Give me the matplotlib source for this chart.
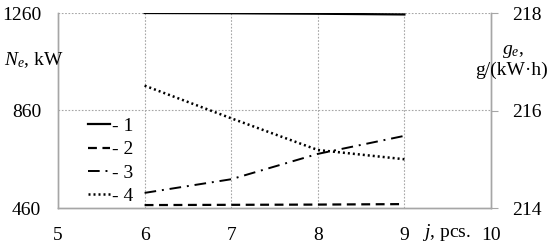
import matplotlib
matplotlib.use("Agg")
import matplotlib.pyplot as plt

j = [6, 7, 8, 9]
ne1 = [1260, 1259, 1257, 1254]
ne2 = [472, 473, 474, 476]
ge3 = [214.31, 214.59, 215.11, 215.48]
ge4 = [216.51, 215.84, 215.19, 215.00]
labels = ["- 1", "- 2", "- 3", "- 4"]

plt.rcParams['font.family'] = ['Liberation Serif', 'DejaVu Serif']
plt.rcParams['font.size'] = 14
plt.rcParams['mathtext.fontset'] = 'custom'
plt.rcParams['mathtext.rm'] = 'Liberation Serif'
plt.rcParams['mathtext.it'] = 'Liberation Serif:italic'

W, H = 550, 243
fig = plt.figure(figsize=(5.5, 2.43), dpi=100)
ax = fig.add_axes([58/W, 1-208/H, (491-58)/W, (208-13)/H])
ax2 = ax.twinx()

gray = '#a6a6a6'
h1, = ax.plot(j, ne1, color='black', lw=1.6, ls='-', label=labels[0])
h2, = ax.plot(j, ne2, color='black', lw=1.6, ls=(0, (4, 2.5)), label=labels[1])
h3, = ax2.plot(j, ge3, color='black', lw=1.4, ls=(0, (6, 3, 1, 3)), label=labels[2])
h4, = ax2.plot(j, ge4, color='black', lw=1.8, ls=(0, (0.8, 1.2)), label=labels[3])

ax.set_xlim(5, 10)
ax.set_ylim(460, 1260)
ax2.set_ylim(214, 218)
ax.set_xticks([5, 6, 7, 8, 9, 10])
ax.set_yticks([460, 860, 1260])
ax2.set_yticks([214, 216, 218])

for x in [6, 7, 8, 9]:
    ax.axvline(x, color=gray, lw=0.8, ls=(0, (1.5, 1.5)), zorder=0)
for y in [860, 1260]:
    ax.axhline(y, color=gray, lw=0.8, ls=(0, (1.5, 1.5)), zorder=0)

for a in (ax, ax2):
    a.spines['top'].set_visible(False)
    for s in ['left', 'bottom', 'right']:
        a.spines[s].set_color(gray)
        a.spines[s].set_linewidth(1.0)
ax.tick_params(axis='y', length=0, pad=12)
ax.tick_params(axis='x', length=0, pad=14)
ax2.tick_params(axis='y', length=5, color=gray, pad=10)

fig.text(4/W, 1-60/H, r"$N_e$, kW", fontsize=14, ha='left', va='center')
fig.text(513/W, 1-52/H, r"$g_e$,", fontsize=14, ha='center', va='center')
fig.text(548/W, 1-70/H, "g/(kW·h)", fontsize=14, ha='right', va='center')
fig.text(422/W, 1-232/H, r"$j$, pcs.", fontsize=14, ha='left', va='center')

leg = ax.legend(handles=[h1, h2, h3, h4], loc='upper left',
                bbox_to_anchor=(22/433, 0.505), frameon=False, handlelength=1.15,
                handletextpad=0.1, labelspacing=0.3, borderaxespad=0)

fig.savefig("out.png", dpi=100)
